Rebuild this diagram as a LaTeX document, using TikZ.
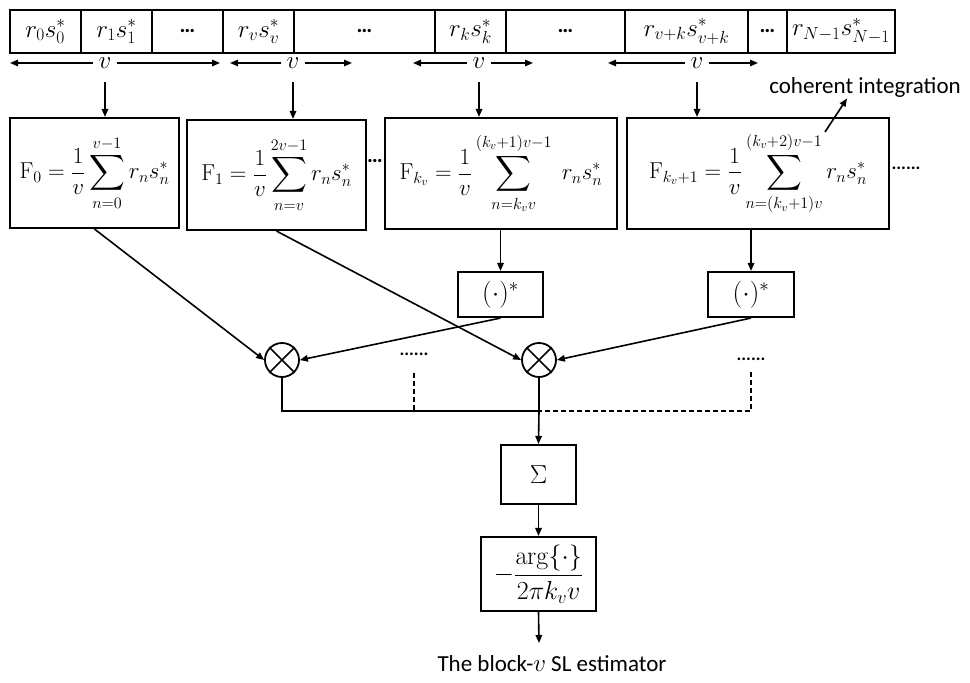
\RequirePackage{fix-cm}
\documentclass[tikz,border=0pt]{standalone}
\usepackage{amsmath}
\usepackage[no-math]{fontspec}
\newfontfamily\labelfont{Carlito}
\usetikzlibrary{arrows.meta}

\newcommand{\msize}[1]{\fontsize{#1}{#1}\selectfont}
\newcommand{\bdots}{{\labelfont\bfseries\fontsize{22}{26}\selectfont …}}

\tikzset{
  every node/.style={font=\msize{22}},
  box/.style={draw, line width=2.1pt, inner sep=0pt},
  cell/.style={box, minimum height=43pt, font=\msize{25}},
  vlab/.style={inner sep=5pt, font=\msize{25}},
  fbox/.style={box, font=\msize{23}},
  mult/.style={circle, draw, line width=1.8pt, minimum size=34pt, inner sep=0pt},
  arr/.style={line width=1.6pt, -{Triangle[length=8pt,width=6.5pt]}},
  wire/.style={line width=1.7pt},
  dline/.style={line width=1.7pt, dash pattern=on 5pt off 3pt},
  dotsl/.style={font=\labelfont\bfseries\fontsize{18}{22}\selectfont, inner sep=1pt},
  plain/.style={font=\labelfont\fontsize{23}{27}\selectfont}
}

\begin{document}
\begin{tikzpicture}[x=1pt, y=-1pt]
\useasboundingbox (0,0) rectangle (970,683);

% sample sequence r_n s_n^*
\node[cell, minimum width=71pt]  (c1)  at (45.5,31.5)  {$r_0s_0^*$};
\node[cell, minimum width=71pt]  (c2)  at (116.5,31.5) {$r_1s_1^*$};
\node[cell, minimum width=71pt]  (c3)  at (187.5,31.5) {\bdots};
\node[cell, minimum width=71pt]  (c4)  at (258.5,31.5) {$r_vs_v^*$};
\node[cell, minimum width=141pt] (c5)  at (364.5,31.5) {\bdots};
\node[cell, minimum width=71pt]  (c6)  at (470.5,31.5) {$r_ks_k^*$};
\node[cell, minimum width=119pt] (c7)  at (565.5,31.5) {\bdots};
\node[cell, minimum width=123pt] (c8)  at (686.5,31.5) {$r_{v+k}s_{v+k}^*$};
\node[cell, minimum width=39pt]  (c9)  at (767.5,31.5) {\bdots};
\node[cell, minimum width=108pt] (c10) at (841,31.5)   {$r_{N-1}s_{N-1}^*$};

% block lengths
\node[vlab] (v1) at (105,63) {$v$};
\node[vlab] (v2) at (293,63) {$v$};
\node[vlab] (v3) at (479,63) {$v$};
\node[vlab] (v4) at (697,63) {$v$};
\coordinate (v1l) at (10,63);  \coordinate (v1r) at (220,63);
\coordinate (v2l) at (230,63); \coordinate (v2r) at (352,63);
\coordinate (v3l) at (413,63); \coordinate (v3r) at (533,63);
\coordinate (v4l) at (608,63); \coordinate (v4r) at (758,63);
\draw[arr] (v1) -- (v1l); \draw[arr] (v1) -- (v1r);
\draw[arr] (v2) -- (v2l); \draw[arr] (v2) -- (v2r);
\draw[arr] (v3) -- (v3l); \draw[arr] (v3) -- (v3r);
\draw[arr] (v4) -- (v4l); \draw[arr] (v4) -- (v4r);

% coherent integration blocks
\node[fbox, minimum width=169pt, minimum height=110pt] (F0) at (94.5,173)
  {$\displaystyle \mathrm{F}_0=\frac{1}{v}\sum_{n=0}^{v-1} r_ns_n^*$};
\node[fbox, minimum width=179pt, minimum height=110pt] (F1) at (276.5,175)
  {$\displaystyle \mathrm{F}_1=\frac{1}{v}\sum_{n=v}^{2v-1} r_ns_n^*$};
\node[fbox, minimum width=232pt, minimum height=111pt] (Fk) at (501,173.5)
  {$\displaystyle \mathrm{F}_{k_v}=\frac{1}{v}\sum_{n=k_vv}^{(k_v+1)v-1}\; r_ns_n^*$};
\node[fbox, minimum width=262pt, minimum height=111pt] (Fk1) at (758,173.5)
  {$\displaystyle \mathrm{F}_{k_v+1}=\frac{1}{v}\sum_{n=(k_v+1)v}^{(k_v+2)v-1} r_ns_n^*$};
\node[inner sep=0pt] (dA) at (375,161) {\bdots};
\node[dotsl] (dB) at (906,168) {......};

\draw[arr] ([yshift=-19pt]v1.center) -- (v1.center |- F0.north);
\draw[arr] ([yshift=-19pt]v2.center) -- (v2.center |- F1.north);
\draw[arr] ([yshift=-19pt]v3.center) -- (v3.center |- Fk.north);
\draw[arr] ([yshift=-19pt]v4.center) -- (v4.center |- Fk1.north);

% label
\node[plain] (coh) at (865,87) {coherent integration};
\coordinate (ci) at (825,132);
\draw[arr] (ci) -- ([xshift=-18pt,yshift=2pt]coh.south);

% conjugation
\node[box, minimum width=85pt, minimum height=45pt, font=\msize{27}] (k1) at (500.5,294.5) {$(\cdot)^*$};
\node[box, minimum width=86pt, minimum height=45pt, font=\msize{27}] (k2) at (751,294.5) {$(\cdot)^*$};
\draw[arr] (Fk.south -| k1.north) -- (k1.north);
\draw[arr] (Fk1.south -| k2.north) -- (k2.north);

% multipliers
\node[mult] (m1) at (282,360) {};
\node[mult] (m2) at (539,360) {};
\draw[wire] (m1.45) -- (m1.225) (m1.135) -- (m1.315);
\draw[wire] (m2.45) -- (m2.225) (m2.135) -- (m2.315);
\draw[arr] (F0.south) -- (m1.west);
\draw[arr] (F1.south) -- (m2.west);
\draw[arr] (k1.south) -- (m1.east);
\draw[arr] (k2.south) -- (m2.east);
\node[dotsl] (d1) at (414,354) {......};
\node[dotsl] (d2) at (751,359) {......};

% summation bus
\node[box, minimum width=75pt, minimum height=59pt, font=\msize{26}] (sig) at (538.5,474.5) {$\Sigma$};
\coordinate (bus) at (539,411);
\draw[wire] (m1.south) |- (bus);
\draw[dline] ([yshift=-19pt]d1.center) -- (d1.center |- bus);
\draw[dline] ([yshift=-13pt]d2.center) |- (bus);
\draw[wire] (m2.south) -- (bus);
\draw[arr] (bus) -- (sig.north);

% phase to SL estimate
\node[box, minimum width=115pt, minimum height=74pt, font=\msize{26}] (argb) at (538.5,574)
  {$-\dfrac{\arg\{\cdot\}}{2\pi k_vv}$};
\draw[arr] (sig.south) -- (argb.north);
\coordinate (out) at (539,643);
\draw[arr] (argb.south) -- (out);
\node[plain] (est) at (552,664) {The block-{\msize{25}$v$} SL estimator};

\end{tikzpicture}
\end{document}
